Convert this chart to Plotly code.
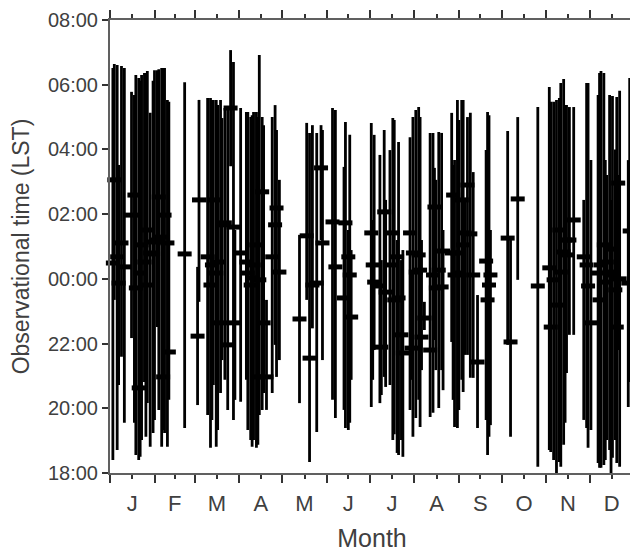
import plotly.graph_objects as go

# Day of year of each observing night
day = [2, 3, 5, 6, 8, 10,
       15, 17, 18, 20, 21, 22, 24, 25, 26, 28, 30, 31, 33, 34, 36, 37, 38, 40, 41,
       52, 61, 62,
       68, 70, 71, 72, 74, 75, 77, 78, 80, 82, 84, 86, 87, 91,
       95, 96, 98, 99, 100, 102, 103, 104, 106, 107, 109, 113, 115, 116, 118,
       132, 137, 139, 141, 144, 147, 148,
       155, 157, 163, 164, 166, 167, 168,
       182, 183, 184, 188, 189, 191, 192, 195, 197, 198, 200, 201, 203, 204,
       209, 210, 211, 213, 215, 216,
       217, 219, 223, 225, 226, 227, 229, 231, 232,
       238, 239, 240, 242, 243, 245, 246, 247, 249, 251, 253, 256, 262, 263, 264, 265,
       277, 279, 284, 298,
       306, 307, 309, 311, 313, 314, 316, 317, 318, 320, 323,
       330, 332, 333, 335, 340, 341, 342, 344, 345, 346, 348, 349, 350, 352, 353,
       354, 355, 361, 362]

# Start / end / median of each night (hours; values above 24 are after midnight)
obs_start = [18.40, 23.35, 18.71, 20.72, 21.59, 19.55,
             22.17, 19.55, 18.56, 18.40, 18.50, 19.02, 20.81, 19.12, 20.16, 18.81, 19.24, 19.64,
             22.51, 19.95, 18.81, 19.33, 19.24, 18.81, 20.26,
             19.39, 20.10, 23.29,
             19.79, 18.78, 19.64, 20.72, 18.81, 19.33, 20.47, 21.49, 20.88, 19.95, 27.48, 19.64,
             20.26, 20.20,
             20.88, 19.33, 19.02, 18.81, 19.02, 18.78, 18.87, 19.79, 19.95, 20.47, 19.95, 20.47,
             21.96, 20.97, 21.49,
             20.16, 23.35, 18.34, 22.47, 19.27, 25.20, 21.49,
             20.26, 19.70, 19.95, 19.39, 19.33, 19.55, 20.88,
             20.04, 20.88, 21.80, 20.16, 20.41, 20.97, 20.66, 20.72, 19.02, 19.20, 18.62, 18.56,
             19.02, 18.50,
             19.95, 20.88, 19.12, 19.70, 20.26, 19.42,
             21.18, 22.42, 19.73, 19.86, 22.11, 21.18, 20.01, 21.18, 20.56,
             22.05, 20.26, 19.42, 19.39, 19.95, 20.88, 20.50, 21.65, 21.65, 20.94, 20.94, 19.39,
             19.64, 18.56, 19.12, 19.48,
             21.96, 19.12, 23.97, 18.19,
             18.71, 18.65, 18.40, 17.95, 18.34, 18.19, 18.87, 19.55, 21.09, 22.27, 22.27,
             19.64, 19.39, 18.78, 19.33, 18.31, 18.16, 18.16, 18.25, 18.40, 19.02, 18.71, 17.95,
             18.47, 19.02, 18.31,
             21.80, 18.19, 20.04, 20.81]

obs_end = [30.52, 30.64, 30.61, 27.52, 30.58, 30.52,
           29.78, 29.68, 30.30, 30.21, 30.12, 30.30, 30.36, 30.36, 30.42, 29.13, 30.12, 30.45,
           30.45, 30.48, 30.52, 30.52, 30.52, 29.53, 29.47,
           30.08, 24.37, 29.53,
           29.59, 29.59, 29.53, 29.53, 29.53, 29.37, 29.53, 28.97, 29.28, 29.28, 31.07, 30.70,
           25.51, 29.28,
           29.16, 29.16, 29.00, 29.06, 29.16, 29.16, 29.00, 30.92, 29.00, 28.75, 23.35, 29.00,
           29.37, 28.60, 27.06,
           25.36, 28.82, 28.51, 28.75, 28.51, 28.75, 28.60,
           29.28, 29.22, 27.46, 28.85, 25.51, 28.45, 24.89,
           28.82, 25.82, 28.45, 27.83, 24.58, 28.60, 26.44, 27.98, 28.97, 28.91, 25.20, 28.23,
           24.58, 24.89,
           28.38, 24.27, 29.00, 29.22, 29.31, 29.00,
           25.20, 23.29, 28.51, 28.51, 27.43, 27.06, 28.54, 28.51, 25.51,
           29.13, 27.52, 27.67, 29.53, 28.91, 29.53, 29.53, 26.44, 29.00, 29.13, 27.30, 23.50,
           27.98, 29.16, 29.06, 25.51,
           28.57, 25.20, 29.00, 29.31,
           29.93, 29.47, 29.47, 29.53, 29.59, 30.05, 30.18, 29.37, 29.37, 29.31, 29.31,
           26.44, 30.05, 30.05, 27.67, 29.68, 30.36, 30.42, 30.36, 27.67, 27.21, 29.68, 26.44,
           29.65, 28.00, 29.62,
           27.21, 29.81, 27.67, 30.21]

obs_median = [24.49, 27.06, 24.68, 23.87, 25.11, 24.37,
              25.97, 26.59, 23.72, 20.63, 24.18, 25.05, 24.52, 25.51, 23.81, 24.80, 24.77, 25.14,
              25.20, 26.53, 25.29, 20.97, 25.97, 25.11, 21.74,
              24.77, 22.23, 26.44,
              24.68, 23.81, 24.43, 26.44, 24.18, 24.52, 22.64, 25.67, 25.73, 21.96, 29.28, 25.60,
              22.64, 24.80,
              24.52, 24.18, 23.81, 24.03, 24.43, 25.05, 20.97, 23.97, 26.69, 22.64, 20.97, 24.68,
              25.67, 26.19, 24.21,
              22.76, 25.33, 21.55, 23.81, 23.87, 27.43, 25.11,
              25.76, 24.37, 23.41, 25.73, 24.68, 24.12, 22.82,
              25.42, 24.43, 23.90, 23.78, 21.89, 26.07, 23.59, 24.43, 25.42, 23.35, 24.68, 23.41,
              22.27, 21.71,
              25.42, 21.86, 24.80, 24.21, 24.74, 24.27,
              22.20, 22.79, 21.80, 24.12, 26.22, 23.72, 24.27, 23.75, 24.86,
              24.80, 26.59, 24.12, 24.80, 24.18, 26.44, 25.05, 25.42, 26.90, 25.39, 24.12, 21.43,
              24.55, 23.35, 23.81, 24.12,
              25.26, 22.05, 26.47, 23.78,
              24.34, 22.51, 23.97, 23.19, 25.51, 24.21, 24.83, 25.20, 24.74, 25.20, 25.82,
              24.68, 24.43, 23.78, 22.64, 24.18, 23.35, 24.43, 25.05, 23.90, 24.52, 24.21, 24.12,
              24.92, 23.66, 22.51,
              26.96, 24.00, 23.87, 25.48]

month_labels = ["J", "F", "M", "A", "M", "J", "J", "A", "S", "O", "N", "D"]
month_mid = [15.5, 45, 74.5, 105, 135.5, 166, 196.5, 227.5, 258, 288.5, 319, 349.5]
month_bounds = [0, 31, 59, 90, 120, 151, 181, 212, 243, 273, 304, 334, 365]

y_tickvals = [18, 20, 22, 24, 26, 28, 30, 32]
y_ticktext = ["18:00", "20:00", "22:00", "00:00", "02:00", "04:00", "06:00", "08:00"]

seg_x, seg_y = [], []
for d, s, e in zip(day, obs_start, obs_end):
    seg_x += [d, d, None]
    seg_y += [s, e, None]

fig = go.Figure()
fig.add_trace(go.Scatter(x=seg_x, y=seg_y, mode="lines",
                         line=dict(color="black", width=2.8),
                         hoverinfo="skip"))
fig.add_trace(go.Scatter(x=day, y=obs_median, mode="markers",
                         marker=dict(symbol="line-ew", size=10,
                                     line=dict(color="black", width=5)),
                         cliponaxis=False))

font_family = "Liberation Sans, Arial, sans-serif"
axis_col = "#606060"
text_col = "#404040"

# The page body adds an 8px margin, so the figure is sized 8px smaller.
fig.update_layout(
    width=630, height=544,
    margin=dict(l=102, r=4, t=12, b=79),
    plot_bgcolor="white", paper_bgcolor="white",
    showlegend=False,
    font=dict(family=font_family, color=text_col),
    xaxis=dict(
        range=[0, 365], automargin=False,
        tickmode="array", tickvals=month_mid, ticktext=month_labels,
        ticks="outside", ticklen=4, tickwidth=1.5, tickcolor="#333",
        minor=dict(tickmode="array", tickvals=month_bounds, ticks="outside",
                   ticklen=8, tickwidth=1.5, tickcolor="#333"),
        showline=True, linecolor=axis_col, linewidth=2, mirror="ticks",
        showgrid=False, zeroline=False,
        ticklabelstandoff=6,
        tickfont=dict(size=22, color=text_col),
        title=dict(text="Month", font=dict(size=25, color=text_col), standoff=15),
    ),
    yaxis=dict(
        range=[18, 32], automargin=False,
        tickmode="array", tickvals=y_tickvals, ticktext=y_ticktext,
        ticks="outside", ticklen=6, tickwidth=1.5, tickcolor="#333",
        showline=True, linecolor=axis_col, linewidth=2, mirror="ticks",
        showgrid=False, zeroline=False,
        tickfont=dict(size=20, color=text_col),
        title=dict(text="Observational time (LST)", font=dict(size=23, color=text_col),
                   standoff=12),
    ),
)

fig.write_html("out.html")
